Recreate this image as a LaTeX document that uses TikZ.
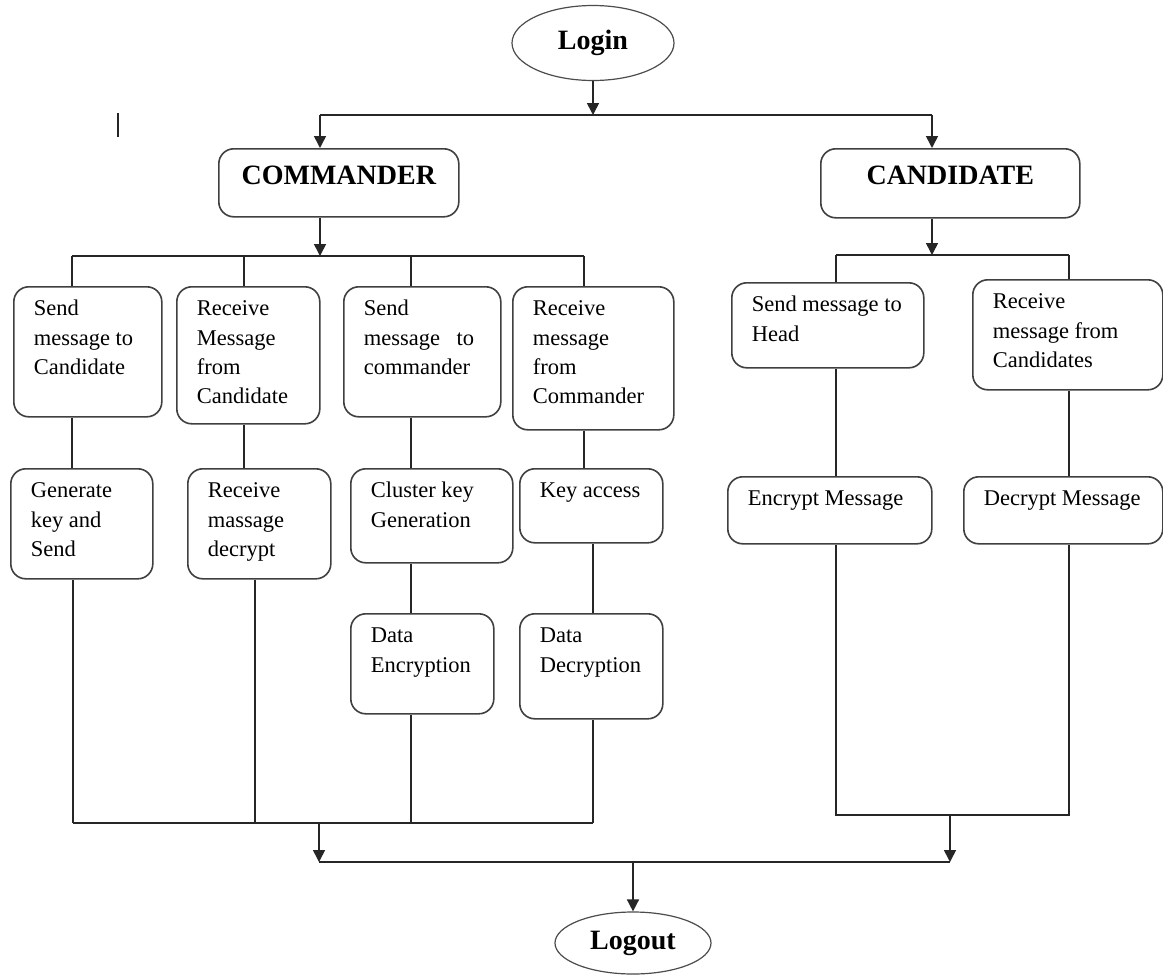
\documentclass[tikz,border=0pt]{standalone}
\usepackage{fontspec}
\setmainfont{Liberation Serif}
\usetikzlibrary{shapes.geometric,arrows.meta}

\newcommand{\boxtext}[3]{\parbox[t][#2][t]{#1}{\raggedright\leftskip=20pt\vspace*{8.5pt}\strut #3}}
\newcommand{\headtext}[3]{\parbox[t][#2][t]{#1}{\centering\vspace*{12pt}\strut #3}}

\begin{document}
\begin{tikzpicture}[x=1pt,y=-1pt,line width=1.6pt,draw=black!85]
    \tikzstyle{process}=[draw=black!75,rounded corners=15pt,inner sep=0pt,anchor=north west,font=\fontsize{22.5}{29.3}\selectfont]
    \tikzstyle{head}=[process,font=\fontsize{28}{34}\selectfont\bfseries]
    \tikzstyle{terminal}=[ellipse,draw=black!70,line width=1.2pt,inner sep=0pt,font=\fontsize{28}{34}\selectfont\bfseries]
    \tikzstyle{flow}=[-{Triangle[length=12pt,width=12pt]}]

    \path[use as bounding box,fill=white] (0,0) rectangle (1163,975);

    % Draw the start and end nodes
    \node[terminal,minimum width=162pt,minimum height=75pt] (login) at (593,43) {Login};
    \node[terminal,minimum width=156pt,minimum height=62pt] (logout) at (633,943) {Logout};

    % Draw the two roles
    \node[head] (cmd) at (218,148) {\headtext{240pt}{68pt}{COMMANDER}};
    \node[head] (cand) at (820,148) {\headtext{259pt}{69pt}{CANDIDATE}};

    % Draw the commander tasks
    \node[process] (S-1) at (13,286) {\boxtext{148pt}{130pt}{Send\\message to\\Candidate}};
    \node[process] (S-2) at (176,286) {\boxtext{143pt}{137pt}{Receive\\Message\\from\\Candidate}};
    \node[process] (S-3) at (343,286) {\boxtext{157pt}{130pt}{Send\\message\hspace{11pt} to\\commander}};
    \node[process] (S-4) at (512,286) {\boxtext{161pt}{143pt}{Receive\\message\\from\\Commander}};

    \node[process] (G-1) at (10,468) {\boxtext{142pt}{110pt}{Generate\\key and\\Send}};
    \node[process] (G-2) at (187,468) {\boxtext{143pt}{110pt}{Receive\\massage\\decrypt}};
    \node[process] (G-3) at (350,468) {\boxtext{162pt}{94pt}{Cluster key\\Generation}};
    \node[process] (G-4) at (519,468) {\boxtext{143pt}{74pt}{Key access}};

    \node[process] (D-3) at (350,613) {\boxtext{143pt}{100pt}{Data\\Encryption}};
    \node[process] (D-4) at (519,613) {\boxtext{143pt}{105pt}{Data\\Decryption}};

    % Draw the candidate tasks
    \node[process] (C-1) at (731,282) {\boxtext{192pt}{85pt}{Send message to\\Head}};
    \node[process] (C-2) at (972,279) {\boxtext{190pt}{110pt}{Receive\\message from\\Candidates}};
    \node[process] (E-1) at (727,476) {\boxtext{204pt}{67pt}{Encrypt Message}};
    \node[process] (E-2) at (963,476) {\boxtext{199pt}{67pt}{Decrypt Message}};

    % Junction points
    \coordinate (T-L) at (320,115);
    \coordinate (T-R) at (932,115);
    \coordinate (cb-1) at (72,256);
    \coordinate (cb-2) at (244,256);
    \coordinate (cb-3) at (411,256);
    \coordinate (cb-4) at (584,256);
    \coordinate (bb-1) at (73,823);
    \coordinate (bb-2) at (255,823);
    \coordinate (bb-3) at (411,823);
    \coordinate (bb-4) at (593,823);
    \coordinate (kb-1) at (836,255);
    \coordinate (kb-2) at (1069,255);
    \coordinate (kf-1) at (836,815);
    \coordinate (kf-2) at (1069,815);
    \coordinate (M-L) at (319,862);
    \coordinate (M-R) at (950,862);

    % Split after login
    \draw[flow] (login) -- (login |- T-L);
    \draw (T-L) -- (T-R);
    \draw[flow] (T-L) -- (T-L |- cmd.north);
    \draw[flow] (T-R) -- (T-R |- cand.north);

    % Commander branch
    \draw[flow] (cmd.south -| T-L) -- (T-L |- cb-1);
    \draw (cb-1) -- (cb-4);
    \foreach \n in {1,...,4}
    {
        \draw (cb-\n) -- (cb-\n |- S-\n.north);
        \draw (S-\n.south -| cb-\n) -- (cb-\n |- G-\n.north);
    }
    \draw (G-3.south -| cb-3) -- (cb-3 |- D-3.north);
    \draw (G-4.south -| bb-4) -- (bb-4 |- D-4.north);
    \draw (G-1.south -| bb-1) -- (bb-1);
    \draw (G-2.south -| bb-2) -- (bb-2);
    \draw (D-3.south -| bb-3) -- (bb-3);
    \draw (D-4.south -| bb-4) -- (bb-4);
    \draw (bb-1) -- (bb-4);
    \draw[flow] (bb-1 -| M-L) -- (M-L);

    % Candidate branch
    \draw[flow] (cand.south -| T-R) -- (T-R |- kb-1);
    \draw (kb-1) -- (kb-2);
    \draw (kb-1) -- (kb-1 |- C-1.north);
    \draw (kb-2) -- (kb-2 |- C-2.north);
    \draw (C-1.south -| kb-1) -- (kb-1 |- E-1.north);
    \draw (C-2.south -| kb-2) -- (kb-2 |- E-2.north);
    \draw (E-1.south -| kf-1) -- (kf-1) -- (kf-2) -- (E-2.south -| kf-2);
    \draw[flow] (kf-1 -| M-R) -- (M-R);

    % Join before logout
    \draw (M-L) -- (M-R);
    \draw[flow] (M-L -| logout) -- (logout.north);

    % Stray mark
    \draw[line width=1.4pt] (118,113) -- (118,137);
\end{tikzpicture}
\end{document}
